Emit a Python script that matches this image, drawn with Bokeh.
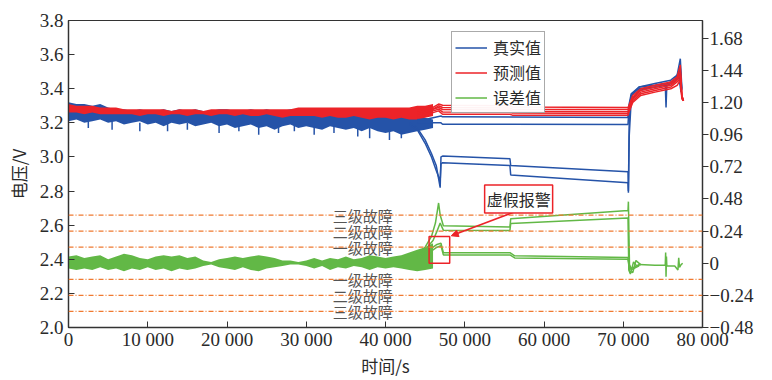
from bokeh.plotting import figure
from bokeh.models import (Range1d, LinearAxis, FixedTicker, Span, Label, Arrow,
                          NormalHead, Legend, LegendItem)
from bokeh.core.properties import value
from bokeh.embed import file_html
from bokeh.resources import INLINE

# ---------------- data ----------------
# noisy early period: envelopes every 1000 s
t_band = [0, 1000, 2000, 3000, 4000, 5000, 6000, 7000, 8000, 9000,
          10000, 11000, 12000, 13000, 14000, 15000, 16000, 17000, 18000, 19000,
          20000, 21000, 22000, 23000, 24000, 25000, 26000, 27000, 28000, 29000,
          30000, 31000, 32000, 33000, 34000, 35000, 36000, 37000, 38000, 39000,
          40000, 41000, 42000, 43000, 44000, 45000, 46000]
blue_hi = [3.32, 3.31, 3.31, 3.30, 3.31, 3.29, 3.28, 3.28, 3.27, 3.28,
           3.27, 3.27, 3.28, 3.27, 3.28, 3.27, 3.28, 3.27, 3.27, 3.28,
           3.28, 3.27, 3.27, 3.28, 3.27, 3.28, 3.27, 3.27, 3.28, 3.27,
           3.27, 3.28, 3.27, 3.28, 3.27, 3.27, 3.26, 3.27, 3.26, 3.27,
           3.26, 3.26, 3.25, 3.25, 3.24, 3.23, 3.22]
blue_lo = [3.21, 3.22, 3.20, 3.21, 3.22, 3.20, 3.21, 3.19, 3.20, 3.21,
           3.19, 3.20, 3.18, 3.20, 3.19, 3.20, 3.18, 3.19, 3.20, 3.18,
           3.19, 3.17, 3.18, 3.19, 3.17, 3.18, 3.16, 3.18, 3.19, 3.17,
           3.18, 3.17, 3.16, 3.18, 3.17, 3.16, 3.17, 3.15, 3.17, 3.15,
           3.14, 3.15, 3.13, 3.14, 3.15, 3.16, 3.17]
red_hi = [3.31, 3.30, 3.30, 3.30, 3.29, 3.29, 3.29, 3.28, 3.28, 3.28,
          3.28, 3.28, 3.28, 3.27, 3.28, 3.28, 3.28, 3.27, 3.28, 3.28,
          3.28, 3.28, 3.28, 3.28, 3.28, 3.28, 3.28, 3.28, 3.28, 3.29,
          3.29, 3.29, 3.29, 3.29, 3.29, 3.29, 3.29, 3.29, 3.29, 3.29,
          3.29, 3.29, 3.29, 3.29, 3.30, 3.30, 3.31]
red_lo = [3.26, 3.26, 3.25, 3.26, 3.25, 3.25, 3.25, 3.25, 3.25, 3.24,
          3.25, 3.25, 3.24, 3.25, 3.25, 3.24, 3.25, 3.25, 3.24, 3.25,
          3.25, 3.24, 3.25, 3.24, 3.24, 3.25, 3.24, 3.23, 3.24, 3.24,
          3.24, 3.24, 3.23, 3.24, 3.23, 3.23, 3.24, 3.23, 3.22, 3.23,
          3.23, 3.22, 3.23, 3.22, 3.22, 3.23, 3.24]
green_hi = [0.05, 0.06, 0.04, 0.05, 0.06, 0.03, 0.05, 0.07, 0.06, 0.04,
            0.03, 0.05, 0.06, 0.05, 0.06, 0.04, 0.05, 0.02, 0.01, 0.03,
            0.04, 0.05, 0.04, 0.05, 0.06, 0.05, 0.04, 0.02, 0.02, 0.01,
            0.02, 0.04, 0.02, 0.04, 0.03, 0.05, 0.03, 0.04, 0.06, 0.05,
            0.04, 0.05, 0.06, 0.08, 0.10, 0.12, 0.15]
green_lo = [-0.04, -0.05, -0.04, -0.05, -0.03, -0.05, -0.04, -0.06, -0.04, -0.05,
            -0.03, -0.05, -0.04, -0.06, -0.04, -0.05, -0.04, -0.02, -0.01, -0.03,
            -0.04, -0.05, -0.03, -0.05, -0.06, -0.04, -0.03, -0.02, -0.01, -0.01,
            -0.02, -0.04, -0.02, -0.05, -0.03, -0.04, -0.02, -0.03, -0.05, -0.03,
            -0.04, -0.03, -0.04, -0.05, -0.06, -0.05, -0.04]

# downward spikes of the real voltage
spike_t = [2500, 5500, 9000, 12500, 15000, 19000, 21500, 24000, 26500, 28500,
           31000, 33500, 36500, 38000, 40500, 42000]
spike_top = [3.21, 3.21, 3.20, 3.20, 3.20, 3.19, 3.19, 3.19, 3.18, 3.19,
             3.18, 3.18, 3.17, 3.17, 3.16, 3.15]
spike_low = [3.17, 3.16, 3.15, 3.15, 3.16, 3.14, 3.15, 3.13, 3.14, 3.15,
             3.13, 3.14, 3.12, 3.11, 3.10, 3.11]

# real voltage, individual cells after divergence
b1_t = [44000, 45000, 46000, 47000, 47200, 70600, 70700, 71000, 72000, 74000,
        75300, 75400, 75500, 76500, 77000, 77300]
b1_v = [3.22, 3.22, 3.23, 3.24, 3.235, 3.232, 3.30, 3.37, 3.41, 3.42,
        3.43, 3.29, 3.43, 3.45, 3.50, 3.40]
b2_v = [3.20, 3.20, 3.20, 3.20, 3.192, 3.19, 3.27, 3.36, 3.40, 3.41,
        3.42, 3.42, 3.42, 3.44, 3.47, 3.38]
b3_t = [43000, 44000, 45000, 45800, 46400, 46900, 47000, 47200, 55700, 55800,
        70600, 70650, 70750, 71000, 72000, 74000, 76000, 76800, 77200, 77400]
b3_v = [3.20, 3.17, 3.10, 3.02, 2.95, 2.82, 3.00, 3.005, 2.99, 2.95,
        2.913, 2.80, 3.20, 3.36, 3.41, 3.43, 3.45, 3.48, 3.576, 3.40]
b4_v = [3.19, 3.16, 3.08, 3.00, 2.92, 2.86, 2.96, 2.966, 2.95, 2.894,
        2.849, 2.79, 3.12, 3.33, 3.39, 3.41, 3.43, 3.46, 3.52, 3.39]

# predicted voltage, individual cells
r_t = [44000, 45000, 46000, 46700, 47200, 55700, 56000, 70600, 70700, 71200,
       72200, 74000, 76000, 76800, 77200, 77400, 77600]
r1_v = [3.27, 3.28, 3.29, 3.31, 3.303, 3.30, 3.293, 3.29, 3.30, 3.36,
        3.40, 3.42, 3.44, 3.47, 3.54, 3.36, 3.33]
r2_v = [3.26, 3.27, 3.28, 3.30, 3.29, 3.287, 3.28, 3.278, 3.29, 3.35,
        3.39, 3.41, 3.43, 3.46, 3.50, 3.36, 3.33]
r3_v = [3.25, 3.26, 3.28, 3.29, 3.278, 3.275, 3.268, 3.265, 3.28, 3.34,
        3.38, 3.40, 3.42, 3.45, 3.48, 3.35, 3.33]
r4_v = [3.24, 3.25, 3.27, 3.28, 3.264, 3.262, 3.257, 3.255, 3.27, 3.33,
        3.37, 3.39, 3.41, 3.44, 3.46, 3.35, 3.33]
r5_v = [3.23, 3.24, 3.26, 3.27, 3.25, 3.25, 3.245, 3.245, 3.26, 3.32,
        3.36, 3.38, 3.40, 3.42, 3.45, 3.34, 3.33]

# error, individual cells
g1_t = [44000, 45000, 45800, 46300, 46700, 46900, 47300, 55700, 55800, 70600,
        70650, 70800, 71200, 71600, 72200]
g1_e = [0.06, 0.12, 0.20, 0.30, 0.45, 0.36, 0.28, 0.27, 0.333, 0.394,
        0.46, -0.06, -0.07, 0.02, -0.01]
g2_t = [44000, 45000, 46000, 46500, 46900, 47300, 55700, 55800, 70600, 70700,
        70900, 71300, 71700, 72200]
g2_e = [0.05, 0.10, 0.17, 0.24, 0.30, 0.247, 0.245, 0.296, 0.338, -0.05,
        -0.08, 0.01, -0.02, -0.01]
g3_t = [44000, 45500, 46500, 47000, 47300, 55700, 56300, 70600, 70700, 71000, 72000]
g3_e = [0.04, 0.10, 0.14, 0.15, 0.079, 0.079, 0.055, 0.042, 0.0, -0.04, -0.01]
g4_e = [0.03, 0.08, 0.12, 0.13, 0.062, 0.062, 0.040, 0.030, -0.01, -0.05, -0.02]
gt_t = [72000, 74000, 75300, 75350, 75400, 75450, 75500, 76500, 76900, 77000,
        77100, 77300, 77500]
gt_e = [-0.01, -0.015, -0.015, 0.08, -0.10, 0.05, -0.02, -0.02, -0.05, 0.04,
        -0.03, -0.01, 0.0]

# fault thresholds
fault_levels = [0.36, 0.24, 0.12, -0.12, -0.24, -0.36]
fault_names = ["三级故障", "二级故障", "一级故障", "一级故障", "二级故障", "三级故障"]

# false alarm box (time, error)
alarm_t = [45500, 48100]
alarm_e = [0.0, 0.20]

x_ticks = [0, 10000, 20000, 30000, 40000, 50000, 60000, 70000, 80000]
x_labels = ["0", "10 000", "20 000", "30 000", "40 000", "50 000", "60 000", "70 000", "80 000"]
yl_ticks = [2.0, 2.2, 2.4, 2.6, 2.8, 3.0, 3.2, 3.4, 3.6, 3.8]
yl_labels = ["2.0", "2.2", "2.4", "2.6", "2.8", "3.0", "3.2", "3.4", "3.6", "3.8"]
yr_ticks = [-0.48, -0.24, 0, 0.24, 0.48, 0.72, 0.96, 1.20, 1.44, 1.68]
yr_labels = ["\u22120.48", "\u22120.24", "0", "0.24", "0.48", "0.72", "0.96", "1.20", "1.44", "1.68"]

# ---------------- styling ----------------
BLUE = "#2553a8"
RED = "#ec2328"
GREEN = "#62b846"
ORANGE = "#f07a30"
SERIF = "'Liberation Serif', 'Times New Roman', serif"
CJK = "Noto Sans CJK SC"
TXT = "#2a2a2a"

p = figure(width=772, height=380, x_range=Range1d(0, 80000), y_range=Range1d(2.0, 3.8),
           output_backend="svg", toolbar_location=None,
           min_border_left=68, min_border_right=70, min_border_top=20, min_border_bottom=52)
p.extra_y_ranges = {"err": Range1d(-0.48, 1.813)}
p.grid.visible = False
p.outline_line_color = "#333333"
p.outline_line_width = 1.2
p.background_fill_color = "white"
p.border_fill_color = "white"

# axes
p.xaxis.ticker = FixedTicker(ticks=x_ticks)
p.xaxis.major_label_overrides = dict(zip(x_ticks, x_labels))
p.yaxis.ticker = FixedTicker(ticks=yl_ticks)
p.yaxis.major_label_overrides = dict(zip(yl_ticks, yl_labels))
for ax in (p.xaxis[0], p.yaxis[0]):
    ax.major_tick_in = 6
    ax.major_tick_out = 0
    ax.minor_tick_in = 0
    ax.minor_tick_out = 0
    ax.axis_line_color = "#333333"
    ax.axis_line_width = 1.3
    ax.major_tick_line_color = "#333333"
    ax.major_label_text_font = SERIF
    ax.major_label_text_font_size = "19px"
    ax.major_label_text_color = TXT
    ax.axis_label_text_font = CJK
    ax.axis_label_text_font_size = "17px"
    ax.axis_label_text_font_style = "normal"
    ax.axis_label_text_color = TXT
p.xaxis.axis_label = "时间/s"
p.xaxis.major_label_standoff = 1
p.xaxis.axis_label_standoff = 0
p.yaxis.axis_label = "电压/V"
p.yaxis.major_label_standoff = 5
p.yaxis.axis_label_standoff = 6

ra = LinearAxis(y_range_name="err", ticker=FixedTicker(ticks=yr_ticks))
ra.major_label_overrides = dict(zip(yr_ticks, yr_labels))
ra.major_tick_in = 0
ra.major_tick_out = 6
ra.minor_tick_in = 0
ra.minor_tick_out = 0
ra.axis_line_color = "#333333"
ra.axis_line_width = 1.3
ra.major_tick_line_color = "#333333"
ra.major_label_text_font = SERIF
ra.major_label_text_font_size = "19px"
ra.major_label_text_color = TXT
ra.major_label_standoff = 1
p.add_layout(ra, "right")

p.add_layout(Label(x=80000, y=2.93, x_offset=57, text="误差/V", angle=1.5708,
                   text_font=CJK, text_font_size="17px", text_color=TXT,
                   text_align="center", text_baseline="middle"))

# fault threshold lines
for lv in fault_levels:
    p.add_layout(Span(location=lv, dimension="width", y_range_name="err",
                      line_color=ORANGE, line_dash="5 2 1 2", line_width=1.2))
p.text(x=[40900] * len(fault_levels), y=fault_levels, text=fault_names, y_range_name="err",
       text_font=value(CJK), text_font_size="15px", text_color="#555555",
       text_align="right", text_baseline="middle")

# noisy bands
p.varea(x=t_band, y1=blue_lo, y2=blue_hi, fill_color=BLUE)
p.segment(x0=spike_t, y0=spike_top, x1=spike_t, y1=spike_low, line_color=BLUE, line_width=1.5)
p.varea(x=t_band, y1=red_lo, y2=red_hi, fill_color=RED)
p.varea(x=t_band, y1=green_lo, y2=green_hi, fill_color=GREEN, y_range_name="err")

# individual traces
lw = 1.5
rb1 = p.line(b1_t, b1_v, line_color=BLUE, line_width=lw)
p.line(b1_t, b2_v, line_color=BLUE, line_width=lw)
p.line(b3_t, b3_v, line_color=BLUE, line_width=lw)
p.line(b3_t, b4_v, line_color=BLUE, line_width=lw)
rr1 = p.line(r_t, r1_v, line_color=RED, line_width=lw)
for rv in (r2_v, r3_v, r4_v, r5_v):
    p.line(r_t, rv, line_color=RED, line_width=lw)
rg1 = p.line(g1_t, g1_e, line_color=GREEN, line_width=lw, y_range_name="err")
p.line(g2_t, g2_e, line_color=GREEN, line_width=lw, y_range_name="err")
p.line(g3_t, g3_e, line_color=GREEN, line_width=lw, y_range_name="err")
p.line(g3_t, g4_e, line_color=GREEN, line_width=lw, y_range_name="err")
p.line(gt_t, gt_e, line_color=GREEN, line_width=lw, y_range_name="err")

# false alarm annotation
p.quad(left=[alarm_t[0]], right=[alarm_t[1]], bottom=[alarm_e[0]], top=[alarm_e[1]],
       fill_alpha=0, line_color=RED, line_width=1.5, y_range_name="err")
p.add_layout(Arrow(x_start=57700, y_start=0.415, x_end=48300, y_end=0.205, y_range_name="err",
                   line_color=RED, line_width=1.5,
                   end=NormalHead(size=7, fill_color=RED, line_color=RED)))
p.add_layout(Label(x=56800, y=0.48, y_range_name="err", text="虚假报警",
                   text_font=CJK, text_font_size="16px", text_color=TXT,
                   text_align="center", text_baseline="middle",
                   background_fill_color="white", border_line_color=RED,
                   border_line_width=1.5, padding=2))

# legend
legend = Legend(items=[LegendItem(label="真实值", renderers=[rb1]),
                       LegendItem(label="预测值", renderers=[rr1]),
                       LegendItem(label="误差值", renderers=[rg1])],
                location=(383, 214))
legend.label_text_font = CJK
legend.label_text_font_size = "16px"
legend.label_text_color = TXT
legend.glyph_width = 32
legend.glyph_height = 17
legend.label_height = 17
legend.spacing = 1
legend.padding = 3
legend.margin = 0
legend.border_line_color = "#555555"
legend.border_line_width = 1
legend.label_standoff = 6
p.add_layout(legend)

open("out.html", "w").write(file_html(p, INLINE))
